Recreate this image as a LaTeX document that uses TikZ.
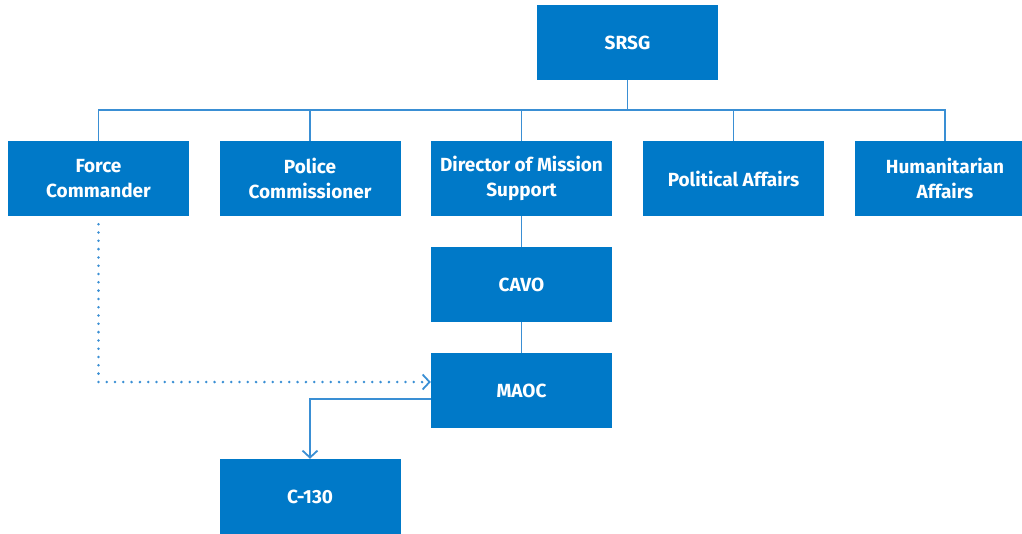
\documentclass[tikz,border=0pt]{standalone}
\usepackage{fontspec}
\setmainfont{Fira Sans}
\usetikzlibrary{arrows.meta}
\definecolor{boxblue}{HTML}{0079C8}
\definecolor{lineblue}{HTML}{3A8FD4}
\begin{document}
\begin{tikzpicture}[x=1pt,y=-1pt,
  box/.style={fill=boxblue, draw=none, minimum width=181pt, minimum height=75pt, inner sep=0pt,
    text=white, align=center, font=\fontsize{19}{25.5}\selectfont\bfseries},
  conn/.style={draw=lineblue, line width=1.8pt},
  arr/.style={-{Straight Barb[length=7pt,width=15pt,line width=1.8pt]}}]
\useasboundingbox (0,0) rectangle (1022,533);
\node[box] (srsg) at (627.5,42.5) {SRSG};
\node[box] (fc) at (98.5,178.5) {Force\\Commander};
\node[box] (pc) at (310,178.5) {Police\\Commissioner};
\node[box] (dms) at (521.5,178.5) {Director of Mission\\Support};
\node[box] (pa) at (733.5,178.5) {Political Affairs};
\node[box] (ha) at (945,178.5) {Humanitarian\\Affairs};
\node[box] (cavo) at (521.5,284.5) {CAVO};
\node[box] (maoc) at (521.5,390.5) {MAOC};
\node[box] (c130) at (310,496.5) {C-130};
\coordinate (bus) at (0,110);
\draw[conn] (srsg.south) -- (srsg.south |- bus);
\draw[conn] (fc.north) -- (fc.north |- bus) -- (ha.north |- bus) -- (ha.north);
\foreach \n in {pc,dms,pa} \draw[conn] (\n.north) -- (\n.north |- bus);
\draw[conn] (dms.south) -- (cavo.north);
\draw[conn] (cavo.south) -- (maoc.north);
\draw[conn, line width=2.8pt, dash pattern=on 0pt off 8.3pt, line cap=round, -{Straight Barb[length=7pt,width=15pt,line width=1.8pt]}] (fc.south) ++(0,8) -- (fc.south |- 0,382) -- (maoc.west |- 0,382);
\draw[conn, arr] (maoc.west |- 0,399) -- (c130.north |- 0,399) -- (c130.north);
\end{tikzpicture}
\end{document}
